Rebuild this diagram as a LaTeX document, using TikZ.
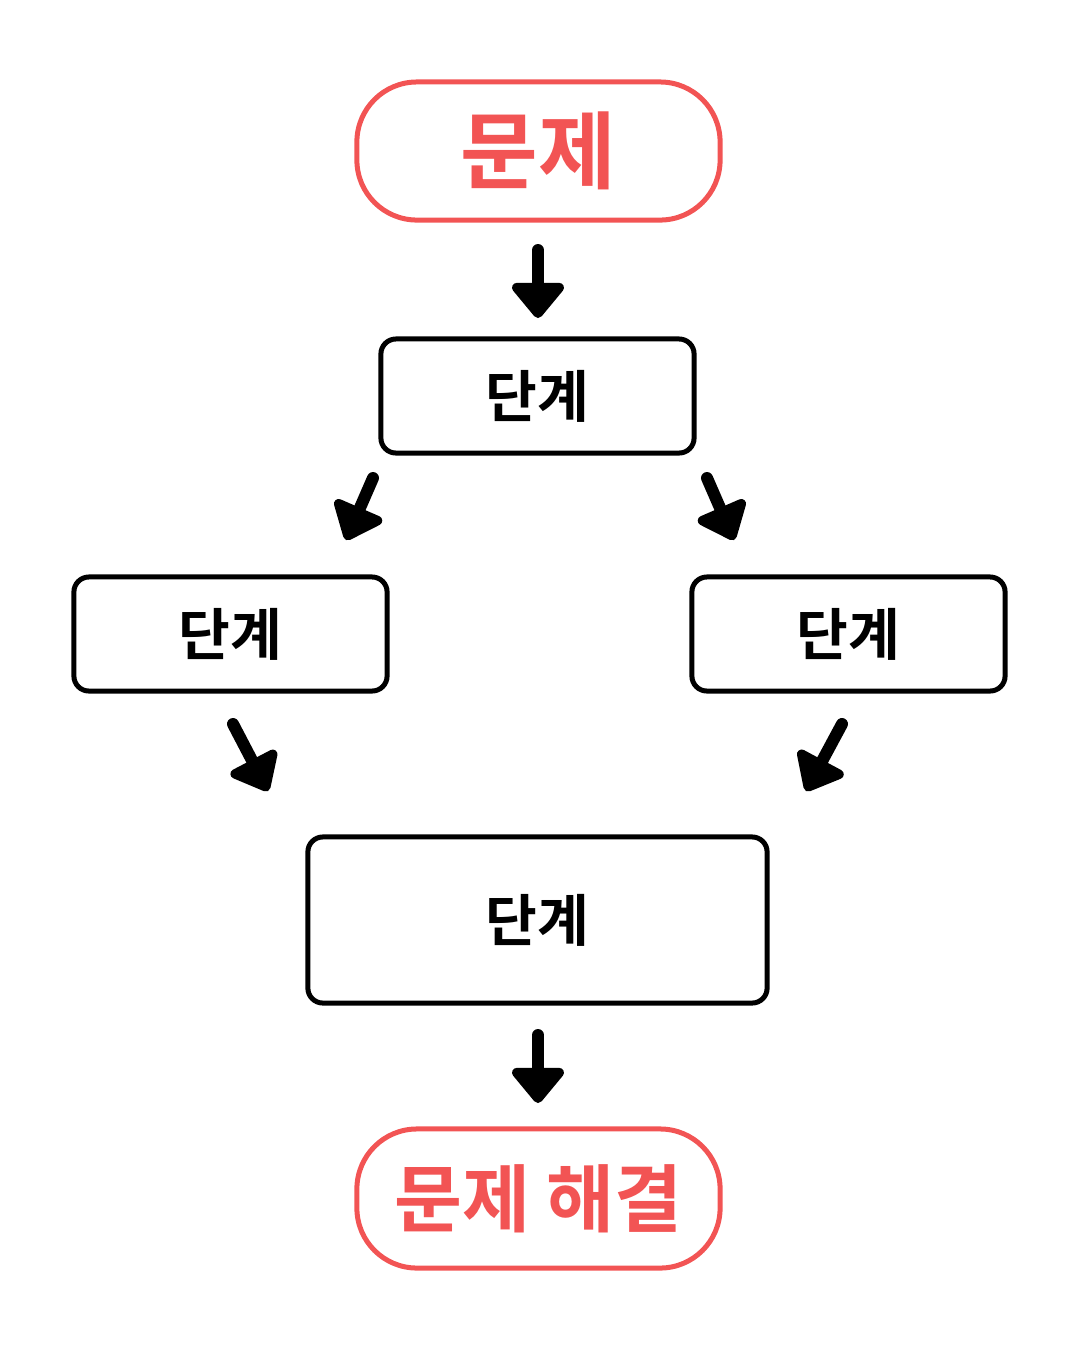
\documentclass[tikz,border=0pt]{standalone}
\usepackage{fontspec}
\newfontfamily\kr{Noto Sans CJK KR}[BoldFont={Noto Sans CJK KR Bold}]
\usetikzlibrary{arrows.meta}
\definecolor{probred}{HTML}{F25454}

\tikzset{
  endbox/.style={draw=probred, line width=0.05cm, rounded corners=0.6cm, text=probred, font=\kr\bfseries},
  stepbox/.style={draw=black, line width=0.05cm, rounded corners=0.15cm, font=\kr\bfseries\fontsize{16pt}{18pt}\selectfont},
  blk/.style={line width=0.12cm, line cap=round, -{Triangle[length=0.38cm, width=0.6cm, round]}}
}

\begin{document}
\begin{tikzpicture}[x=0.01cm, y=-0.01cm]
\useasboundingbox (0,0) rectangle (1080,1350);

% boxes
\node (prob) [endbox, minimum width=3.63cm, minimum height=1.38cm, font=\kr\bfseries\fontsize{24pt}{26pt}\selectfont] at (538.5,151) {문제};
\node (s1) [stepbox, minimum width=3.13cm, minimum height=1.14cm] at (537.5,396) {단계};
\node (sl) [stepbox, minimum width=3.13cm, minimum height=1.14cm] at (230.5,634) {단계};
\node (sr) [stepbox, minimum width=3.13cm, minimum height=1.14cm] at (848.5,634) {단계};
\node (s4) [stepbox, minimum width=4.59cm, minimum height=1.66cm] at (537.5,920) {단계};
\node (sol) [endbox, minimum width=3.63cm, minimum height=1.39cm, font=\kr\bfseries\fontsize{21pt}{24pt}\selectfont] at (538.5,1198.5) {문제 해결};

% arrow ends
\coordinate (a1s) at (538,250);  \coordinate (a1e) at (538,318);
\coordinate (a2s) at (373,478);  \coordinate (a2e) at (346,540);
\coordinate (a3s) at (707,478);  \coordinate (a3e) at (734,540);
\coordinate (a4s) at (233,724);  \coordinate (a4e) at (268,791);
\coordinate (a5s) at (842,724);  \coordinate (a5e) at (806,791);
\coordinate (a6s) at (538,1035); \coordinate (a6e) at (538,1103);

\foreach \i in {1,...,6}
  \draw [blk] (a\i s) -- (a\i e);
\end{tikzpicture}
\end{document}
